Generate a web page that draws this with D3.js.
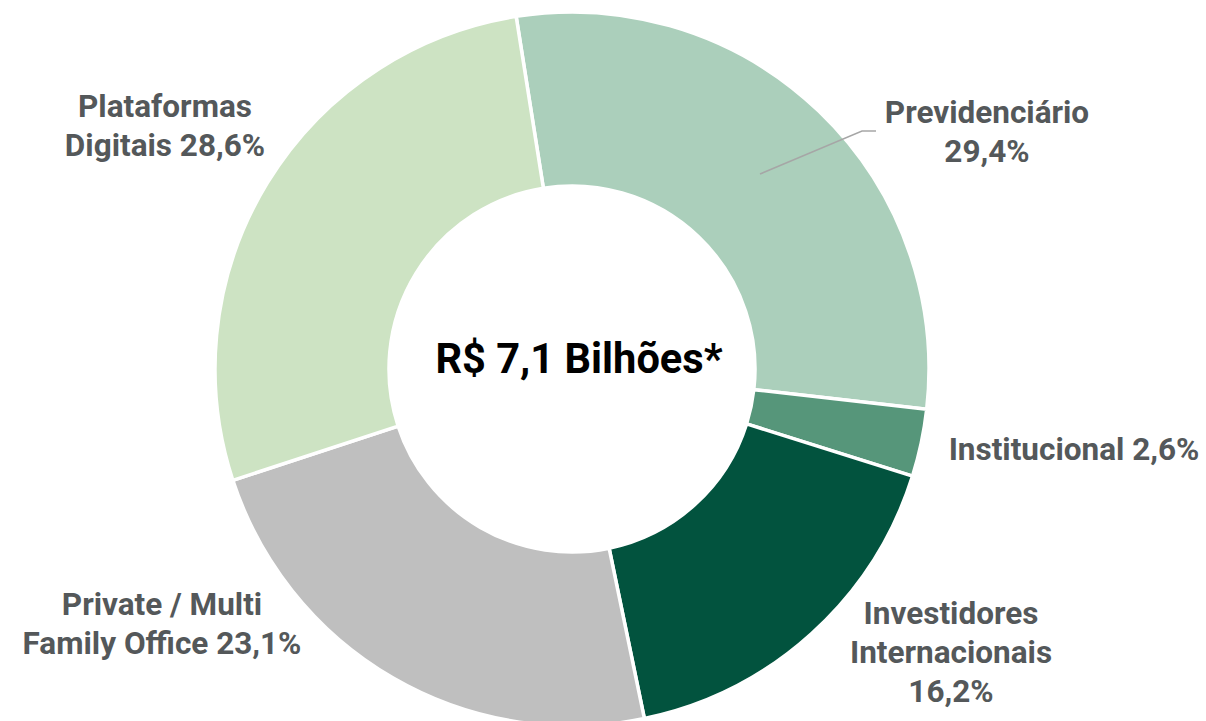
<!DOCTYPE html>
<html><head><meta charset="utf-8">
<script src="https://cdn.jsdelivr.net/npm/d3@7"></script>
<style>body{margin:0;background:#fff;}svg{display:block;font-family:Roboto,sans-serif;}</style>
</head><body><svg id="c" width="1206" height="721"></svg>
<script>
const categories = ["Previdenciário","Institucional","Investidores Internacionais","Private / Multi Family Office","Plataformas Digitais"];
// slice sizes as drawn in the picture (%)
const values = [29.3, 3.05, 16.9, 23.2, 27.55];
// percentages as printed on the labels
const labelPercents = ["29,4%","2,6%","16,2%","23,1%","28,6%"];
const colors = ["#abcfbb","#56967a","#02533e","#bfbfbf","#cde3c3"];
const labelLines = [["Previdenciário","29,4%"],["Institucional 2,6%"],["Investidores","Internacionais","16,2%"],["Private / Multi","Family Office 23,1%"],["Plataformas","Digitais 28,6%"]];
const labelPos = [[987,123],[1074,460],[951,624],[162,615],[165,117]];
const centerText = "R$ 7,1 Bilhões*";

const svg = d3.select("#c");
const cx = 572, cy = 369, R = 357, r = 183;
const start = -9 * Math.PI/180;
const pie = d3.pie().sort(null).startAngle(start).endAngle(start + 2*Math.PI).value(d=>d);
const arc = d3.arc().innerRadius(r).outerRadius(R);
const g = svg.append("g").attr("transform",`translate(${cx},${cy})`);
g.selectAll("path").data(pie(values)).join("path")
  .attr("d",arc).attr("fill",(d,i)=>colors[i]).attr("stroke","#fff").attr("stroke-width",3.5);

// leader line for Previdenciário
svg.append("polyline").attr("points","760,174 862,131 876,131").attr("fill","none").attr("stroke","#a6a6a6").attr("stroke-width",1.5);

labelLines.forEach((lines,i)=>{
  const t = svg.append("text").attr("x",labelPos[i][0]).attr("y",labelPos[i][1])
    .attr("text-anchor","middle").attr("font-size",31.5).attr("font-weight",700).attr("fill","#54585a");
  lines.forEach((l,j)=>t.append("tspan").attr("x",labelPos[i][0]).attr("dy", j===0?0:39).text(l));
});
svg.append("text").attr("x",579).attr("y",373).attr("text-anchor","middle").attr("font-size",41.6)
  .attr("font-weight",700).attr("fill","#000").text(centerText);
</script></body></html>
